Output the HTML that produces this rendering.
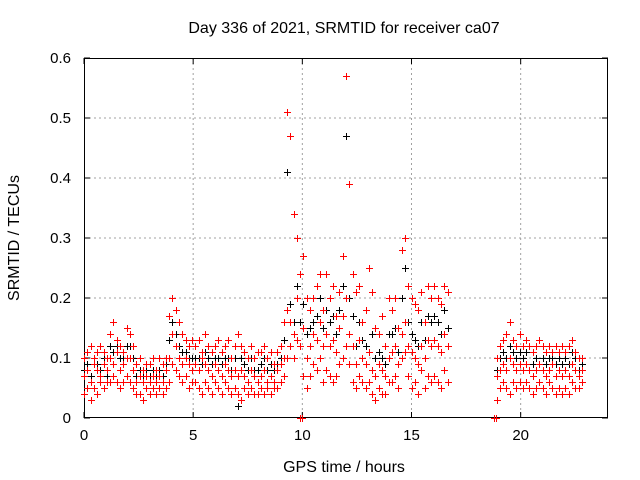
<!DOCTYPE html>
<html><head><meta charset="utf-8"><style>
html,body{margin:0;padding:0;background:#fff}
svg{display:block;font-family:"Liberation Sans",sans-serif}
</style></head><body>
<svg id="chart" width="640" height="480">
<text x="344" y="33" text-anchor="middle" font-size="16">Day 336 of 2021, SRMTID for receiver ca07</text>
<text x="0" y="0" transform="translate(19,238) rotate(-90)" text-anchor="middle" font-size="16">SRMTID / TECUs</text>
<text x="344" y="472" text-anchor="middle" font-size="16">GPS time / hours</text>
<g id="grid"></g><g id="axes"></g><g id="marks"></g>
</svg>
<script>
const times=[0,0.15,0.3,0.45,0.6,0.75,0.9,1.05,1.2,1.35,1.5,1.65,1.8,1.95,2.1,2.25,2.4,2.55,2.7,2.85,3,3.15,3.3,3.45,3.6,3.75,3.9,4.05,4.2,4.35,4.5,4.65,4.8,4.95,5.1,5.25,5.4,5.55,5.7,5.85,6,6.15,6.3,6.45,6.6,6.75,6.9,7.05,7.2,7.35,7.5,7.65,7.8,7.95,8.1,8.25,8.4,8.55,8.7,8.85,9,9.15,9.3,9.45,9.6,9.75,9.9,10.05,10.2,10.35,10.5,10.65,10.8,10.95,11.1,11.25,11.4,11.55,11.7,11.85,12,12.15,12.3,12.45,12.6,12.75,12.9,13.05,13.2,13.35,13.5,13.65,13.8,13.95,14.1,14.25,14.4,14.55,14.7,14.85,15,15.15,15.3,15.45,15.6,15.75,15.9,16.05,16.2,16.35,16.5,16.65,
18.9,19.05,19.2,19.35,19.5,19.65,19.8,19.95,20.1,20.25,20.4,20.55,20.7,20.85,21,21.15,21.3,21.45,21.6,21.75,21.9,22.05,22.2,22.35,22.5,22.65,22.8];
const redHi=[.10,.11,.12,.10,.11,.12,.11,.10,.14,.16,.13,.12,.11,.15,.14,.12,.09,.10,.08,.09,.09,.10,.08,.10,.09,.10,.17,.20,.18,.16,.14,.13,.12,.13,.12,.13,.11,.14,.12,.11,.12,.13,.11,.12,.13,.10,.12,.14,.12,.11,.10,.12,.10,.11,.11,.12,.10,.11,.09,.11,.12,.16,.51,.47,.34,.30,.24,.27,.20,.18,.20,.22,.24,.18,.24,.20,.22,.17,.21,.27,.57,.39,.24,.21,.22,.16,.18,.25,.21,.15,.14,.17,.12,.20,.18,.20,.15,.28,.30,.22,.20,.19,.18,.21,.16,.22,.20,.22,.20,.19,.22,.21,
.10,.12,.13,.14,.16,.13,.12,.14,.12,.13,.12,.11,.12,.13,.12,.11,.12,.11,.12,.11,.12,.11,.12,.13,.11,.10,.10];
const redMid=[.07,.08,.06,.09,.08,.07,.09,.08,.10,.09,.11,.08,.09,.10,.10,.08,.06,.07,.06,.07,.06,.07,.06,.07,.06,.08,.10,.14,.12,.10,.09,.10,.09,.08,.09,.08,.10,.09,.08,.07,.09,.08,.07,.09,.08,.07,.08,.07,.08,.07,.06,.08,.07,.06,.07,.08,.06,.07,.06,.08,.09,.10,.18,.16,.14,.20,.12,.15,.10,.12,.14,.13,.16,.12,.14,.12,.13,.11,.15,.17,.20,.14,.12,.09,.13,.10,.09,.11,.08,.07,.09,.08,.07,.10,.11,.12,.09,.14,.16,.12,.11,.10,.09,.12,.10,.13,.12,.13,.12,.11,.14,.12,
.07,.08,.09,.08,.10,.09,.08,.09,.08,.09,.08,.07,.08,.09,.08,.07,.08,.09,.07,.08,.07,.08,.07,.09,.08,.07,.08];
const redLo=[.04,.05,.03,.05,.04,.06,.05,.06,.06,.07,.06,.05,.06,.07,.06,.05,.04,.04,.03,.05,.04,.05,.04,.05,.04,.05,.06,.09,.08,.07,.06,.07,.05,.06,.06,.05,.04,.06,.05,.04,.06,.05,.04,.06,.05,.04,.05,.04,.03,.05,.04,.05,.04,.04,.05,.04,.05,.04,.05,.05,.06,.07,.10,.12,.10,.13,.00,.07,.05,.07,.09,.08,.10,.06,.08,.07,.06,.07,.09,.10,.12,.09,.06,.05,.07,.06,.05,.06,.04,.03,.05,.04,.04,.06,.06,.07,.05,.10,.11,.07,.05,.06,.04,.08,.05,.07,.06,.07,.06,.05,.08,.06,
.03,.05,.06,.05,.04,.06,.05,.06,.05,.06,.05,.04,.05,.06,.05,.04,.06,.05,.04,.05,.04,.05,.04,.06,.05,.05,.06];
const blackVals=[.08,.09,.07,.10,.09,.08,.10,.07,.12,.11,.12,.10,.10,.12,.12,.10,.07,.08,.07,.08,.07,.08,.07,.08,.07,.09,.13,.16,.14,.12,.11,.11,.10,.10,.10,.10,.09,.11,.10,.09,.10,.10,.09,.10,.10,.08,.10,.02,.10,.09,.08,.10,.08,.08,.09,.10,.08,.09,.08,.09,.10,.13,.41,.19,.16,.22,.16,.19,.14,.15,.16,.17,.20,.15,.18,.16,.17,.14,.18,.22,.47,.20,.17,.12,.16,.13,.12,.25,.14,.10,.11,.10,.09,.14,.14,.15,.11,.20,.25,.16,.14,.13,.12,.16,.13,.17,.16,.17,.16,.14,.18,.15,
.08,.10,.11,.10,.12,.11,.10,.11,.10,.11,.12,.09,.10,.13,.10,.09,.10,.10,.09,.10,.09,.10,.09,.11,.10,.08,.09];
const zeroTimes=[10.0,18.8,18.85];
const zeroVals=[0,0,0];
const xTicks=[0,5,10,15,20];
const yTicks=[0,0.1,0.2,0.3,0.4,0.5,0.6];
const yTickLabels=["0","0.1","0.2","0.3","0.4","0.5","0.6"];

const L=84,R=608,T=58,B=418,XMAX=24,YMAX=0.6;
const xs=t=>L+(R-L)*t/XMAX;
const ys=v=>B-(B-T)*v/YMAX;
const NS="http://www.w3.org/2000/svg";
function mk(tag,attrs,parent){const e=document.createElementNS(NS,tag);for(const k in attrs)e.setAttribute(k,attrs[k]);parent.appendChild(e);return e;}
const grid=document.getElementById('grid'),axes=document.getElementById('axes'),marks=document.getElementById('marks');
xTicks.forEach(t=>{
  const x=xs(t);
  if(t>0){const g=mk('line',{x1:x,x2:x,y1:T,y2:B,stroke:'#a0a0a0','stroke-dasharray':'2,3'},grid);
  
  }
  mk('line',{x1:x,x2:x,y1:B,y2:B-6,stroke:'#000'},axes);
  mk('line',{x1:x,x2:x,y1:T,y2:T+6,stroke:'#000'},axes);
  const tx=mk('text',{x:x,y:B+22,'text-anchor':'middle','font-size':15},axes);
  tx.textContent=String(t);
  
  
});
yTicks.forEach((v,i)=>{
  const y=ys(v);
  if(v>0&&v<YMAX){const g=mk('line',{x1:L,x2:R,y1:y,y2:y,stroke:'#a0a0a0','stroke-dasharray':'2,3'},grid);
  
  }
  mk('line',{x1:L,x2:L+6,y1:y,y2:y,stroke:'#000'},axes);
  mk('line',{x1:R,x2:R-6,y1:y,y2:y,stroke:'#000'},axes);
  const tx=mk('text',{x:L-13,y:y+5,'text-anchor':'end','font-size':15},axes);
  tx.textContent=yTickLabels[i];
  
  
});
const frame=mk('rect',{x:L+0.5,y:T+0.5,width:R-L-1,height:B-T-1,fill:'none',stroke:'#000'},axes);


function plus(t,v,color,name){
  const x=Math.round(xs(t))+0.5,y=Math.round(ys(v))+0.5;
  const p=mk('path',{d:`M${x-3.5} ${y}h7M${x} ${y-3.5}v7`,stroke:color,'stroke-width':1,fill:'none'},marks);
  
  
}
times.forEach((t,i)=>plus(t,blackVals[i],'#000','black-point'));
times.forEach((t,i)=>{
  plus(t,redHi[i],'#f00','red-point');
  plus(t,redMid[i],'#f00','red-point');
  plus(t,redLo[i],'#f00','red-point');
});
zeroTimes.forEach((t,i)=>plus(t,zeroVals[i],'#f00','red-point'));
</script>
</body></html>
